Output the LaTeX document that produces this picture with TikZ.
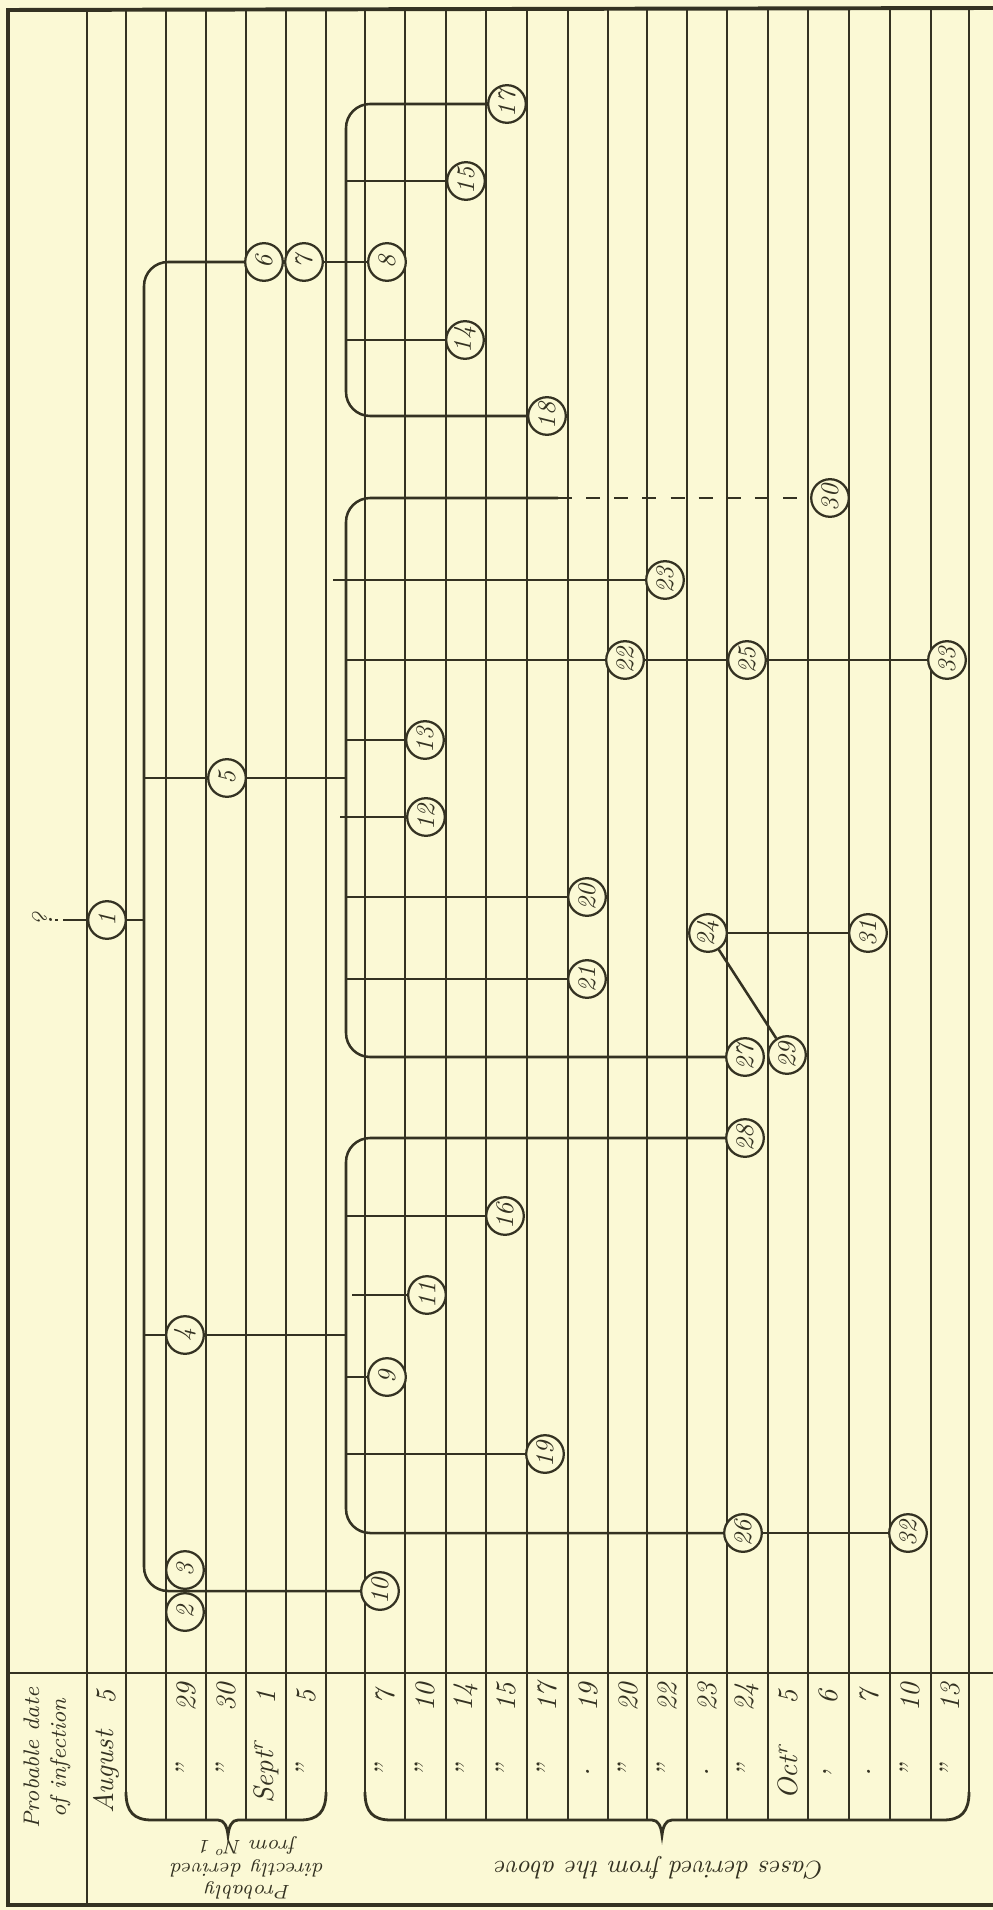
\documentclass[tikz,border=0pt]{standalone}
\usepackage{tikz}
\definecolor{paper}{RGB}{251,249,213}
\definecolor{ink}{RGB}{52,50,34}
\begin{document}
\begin{tikzpicture}[x=0.0125cm,y=-0.0125cm,
    ruling/.style={draw=ink,line width=0.6pt},
    wire/.style={draw=ink,line width=0.9pt},
    curly/.style={draw=ink,line width=1pt},
    case/.style={circle,draw=ink,fill=paper,line width=0.8pt,minimum size=0.47cm,inner sep=0pt,
      font=\small\itshape,text=ink,rotate=90},
    datum/.style={text=ink,font=\itshape,rotate=90,inner sep=1pt}]
  \fill[paper] (0,0) rectangle (993,1910);
  \useasboundingbox (0,0) rectangle (993,1910);

  % frame and rulings
  \draw[ink,line width=1.4pt] (993,8) -- (8,10) -- (8,1905) -- (993,1905);
  \draw[ink,line width=0.8pt] (8,1673) -- (993,1673);
  \draw[ruling] (87,10) -- (87,1905);
  \foreach \x in {166,206,246,286,405,446,486,527,568,608,647,687,727,768,808,849,890,931}
    \draw[ruling] (\x,10) -- (\x,1820);
  \foreach \x in {126,326,365,969}
    \draw[ruling] (\x,10) -- (\x,1792);

  % braces
  \draw[curly] (126,1792) .. controls (126,1812) and (134,1820) .. (152,1820) -- (218,1820)
    .. controls (224,1820) and (227,1826) .. (228,1835) .. controls (229,1826) and (232,1820) .. (238,1820)
    -- (300,1820) .. controls (318,1820) and (326,1812) .. (326,1792);
  \draw[curly] (365,1792) .. controls (365,1812) and (373,1820) .. (391,1820) -- (652,1820)
    .. controls (658,1820) and (661,1826) .. (662,1835) .. controls (663,1826) and (666,1820) .. (672,1820)
    -- (943,1820) .. controls (961,1820) and (969,1812) .. (969,1792);

  % header
  \node[datum,font=\footnotesize\itshape,align=center] (head) at (47,1758) {Probable date\\ of infection};
  \foreach \x/\m/\d in {106/August/5, 186/''/29, 226/''/30, 266/Sept\textsuperscript{r}/1, 306/''/5,
      385/''/7, 425/''/10, 466/''/14, 506/''/15, 547/''/17, 588/./19, 628/''/20, 667/''/22, 707/./23,
      747/''/24, 788/Oct\textsuperscript{r}/5, 828/{,}/6, 869/./7, 910/''/10, 950/''/13}
    {\node[datum] (mon\x) at (\x,1772) {\m};
     \node[datum] (day\x) at (\x,1697) {\d};}
  \node[datum,rotate=90,font=\scriptsize\itshape,align=center] (from1) at (248,1868)
    {Probably\\ directly derived\\ from N\textsuperscript{o}\,1};
  \node[datum,rotate=90,font=\small\itshape] (above) at (660,1868) {Cases derived from the above};

  % cases
  \node[datum] (q) at (42,920) {?};
  \node[case] (c1) at (107,920) {1};
  \node[case] (c2) at (185,1612) {2};
  \node[case] (c3) at (185,1570) {3};
  \node[case] (c4) at (185,1335) {4};
  \node[case] (c5) at (227,778) {5};
  \node[case] (c6) at (264,262) {6};
  \node[case] (c7) at (304,262) {7};
  \node[case] (c8) at (387,262) {8};
  \node[case] (c9) at (387,1377) {9};
  \node[case] (c10) at (380,1591) {10};
  \node[case] (c11) at (427,1295) {11};
  \node[case] (c12) at (426,817) {12};
  \node[case] (c13) at (425,740) {13};
  \node[case] (c14) at (465,340) {14};
  \node[case] (c15) at (466,181) {15};
  \node[case] (c16) at (505,1216) {16};
  \node[case] (c17) at (507,104) {17};
  \node[case] (c18) at (547,416) {18};
  \node[case] (c19) at (545,1454) {19};
  \node[case] (c20) at (587,897) {20};
  \node[case] (c21) at (587,979) {21};
  \node[case] (c22) at (625,660) {22};
  \node[case] (c23) at (665,580) {23};
  \node[case] (c24) at (708,933) {24};
  \node[case] (c25) at (747,660) {25};
  \node[case] (c26) at (743,1533) {26};
  \node[case] (c27) at (745,1057) {27};
  \node[case] (c28) at (745,1138) {28};
  \node[case] (c29) at (787,1055) {29};
  \node[case] (c30) at (830,498) {30};
  \node[case] (c31) at (868,933) {31};
  \node[case] (c32) at (908,1533) {32};
  \node[case] (c33) at (947,660) {33};

  % spines
  \coordinate (aTop) at (144,262);  \coordinate (aBot) at (144,1591);
  \coordinate (dTop) at (346,104);  \coordinate (dBot) at (346,416);
  \coordinate (bTop) at (346,498);  \coordinate (bBot) at (346,1057);
  \coordinate (bDash) at (558,498);
  \coordinate (cTop) at (346,1138); \coordinate (cBot) at (346,1533);
  \coordinate (k23) at (333,580);  \coordinate (k12) at (340,817);
  \coordinate (k11) at (352,1295);

  \draw[wire,dash pattern=on 0.8pt off 2pt on 40pt] (q) -- (c1);
  \draw[wire] (c1) -- (aTop|-c1);
  \draw[wire,rounded corners=0.3cm] (c6) -- (aTop) -- (aBot) -- (c10);
  \draw[wire] (aTop|-c5) -- (c5) -- (bTop|-c5);
  \draw[wire] (aTop|-c4) -- (c4) -- (cTop|-c4);

  \draw[wire,rounded corners=0.3cm] (c17) -- (dTop) -- (dBot) -- (c18);
  \draw[wire] (dTop|-c15) -- (c15);
  \draw[wire] (c7) -- (c8);
  \draw[wire] (dTop|-c14) -- (c14);

  \draw[wire,rounded corners=0.3cm] (c27) -- (bBot) -- (bTop) -- (bDash);
  \draw[wire,dash pattern=on 5pt off 5pt] (bDash) -- (c30);
  \draw[wire] (k23) -- (c23);
  \draw[wire] (bTop|-c22) -- (c22) -- (c25) -- (c33);
  \draw[wire] (bTop|-c13) -- (c13);
  \draw[wire] (k12) -- (c12);
  \draw[wire] (bTop|-c20) -- (c20);
  \draw[wire] (bTop|-c21) -- (c21);
  \draw[wire] (c24) -- (c31);
  \draw[wire] (c24) -- (c29);

  \draw[wire,rounded corners=0.3cm] (c28) -- (cTop) -- (cBot) -- (c26);
  \draw[wire] (c26) -- (c32);
  \draw[wire] (cTop|-c16) -- (c16);
  \draw[wire] (k11) -- (c11);
  \draw[wire] (cTop|-c9) -- (c9);
  \draw[wire] (cTop|-c19) -- (c19);
\end{tikzpicture}
\end{document}
